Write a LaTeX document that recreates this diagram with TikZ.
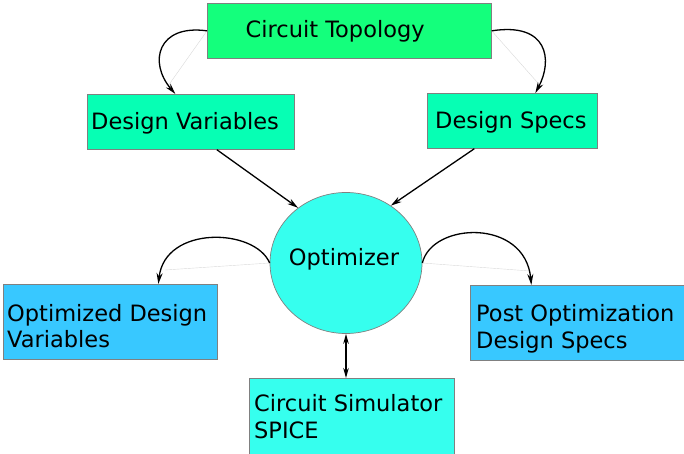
\documentclass[tikz,border=0pt]{standalone}
\usepackage{fontspec}
\setmainfont{DejaVu Sans}
\usetikzlibrary{shapes.geometric,arrows.meta}
\definecolor{topgreen}{RGB}{20,255,124}
\definecolor{aquabox}{RGB}{6,255,180}
\definecolor{cyanfill}{RGB}{54,255,238}
\definecolor{skyblue}{RGB}{56,200,255}
\definecolor{edgegray}{RGB}{128,128,128}

\begin{document}
\begin{tikzpicture}[x=1pt,y=-1pt,
  box/.style={draw=edgegray, line width=0.7pt, rectangle, inner sep=0pt, anchor=north west},
  lbl/.style={inner sep=0pt, anchor=base west, font=\fontsize{22.5}{26}\selectfont},
  flow/.style={line width=1.3pt, -{Stealth[length=11pt,width=6pt]}},
  chord/.style={gray!30, line width=0.4pt}]
\useasboundingbox (0,0) rectangle (684,454);
\clip (0,0) rectangle (684,454);

% boxes
\node[box, fill=topgreen, minimum width=284pt, minimum height=55pt] (topo) at (207,3) {};
\node[box, fill=aquabox, minimum width=207pt, minimum height=55pt] (dvar) at (87,94) {};
\node[box, fill=aquabox, minimum width=170pt, minimum height=55pt] (dspec) at (427,93) {};
\node[ellipse, draw=edgegray, line width=0.7pt, fill=cyanfill, inner sep=0pt,
      minimum width=152pt, minimum height=141pt] (opt) at (346,263) {};
\node[box, fill=skyblue, minimum width=214pt, minimum height=75pt] (odv) at (3,284) {};
\node[box, fill=skyblue, minimum width=216pt, minimum height=75pt] (pods) at (470,285) {};
\node[box, fill=cyanfill, minimum width=205pt, minimum height=82pt] (sim) at (249,378) {};

% labels
\node[lbl] (topo-t) at (245.5,38) {Circuit Topology};
\node[lbl] (dvar-t) at (91,130) {Design Variables};
\node[lbl] (dspec-t) at (435,129) {Design Specs};
\node[lbl, anchor=base] (opt-t) at (344,265) {Optimizer};
\node[lbl] (odv-t1) at (7,321) {Optimized Design};
\node[lbl] (odv-t2) at (7,347) {Variables};
\node[lbl] (pods-t1) at (476,321) {Post Optimization};
\node[lbl] (pods-t2) at (476,348) {Design Specs};
\node[lbl] (sim-t1) at (254,411) {Circuit Simulator};
\node[lbl] (sim-t2) at (254,438) {SPICE};

% faint straight chords under the curved connectors
\coordinate (c-tl) at (168,86);
\coordinate (c-tr) at (537,82);
\coordinate (c-ml) at (165,270);
\coordinate (c-mr) at (530,271);
\draw[chord] (topo.west) -- (c-tl);
\draw[chord] (topo.east) -- (c-tr);
\draw[chord] (opt.west) -- (c-ml);
\draw[chord] (opt.east) -- (c-mr);

% curved connectors
\draw[flow] (topo.west) .. controls (158,24) and (148,62) .. ([xshift=-15.5pt]dvar.north);
\draw[flow] (topo.east) .. controls (548,22) and (553,60) .. ([xshift=23pt]dspec.north);
\draw[flow] (opt.west) .. controls (255,228) and (165,225) .. ([xshift=48pt]odv.north);
\draw[flow] (opt.east) .. controls (432,222) and (525,218) .. ([xshift=-47pt]pods.north);

% straight connectors into the optimizer
\draw[flow] ([xshift=26pt]dvar.south) -- (opt.131);
\draw[flow] ([xshift=-38pt]dspec.south) -- (opt.52);

% two-way link to the simulator
\draw[line width=1.3pt, {Stealth[length=10pt,width=5.5pt]}-{Stealth[length=10pt,width=5.5pt]}]
  (opt.south) -- (opt.south |- sim.north);
\end{tikzpicture}
\end{document}
